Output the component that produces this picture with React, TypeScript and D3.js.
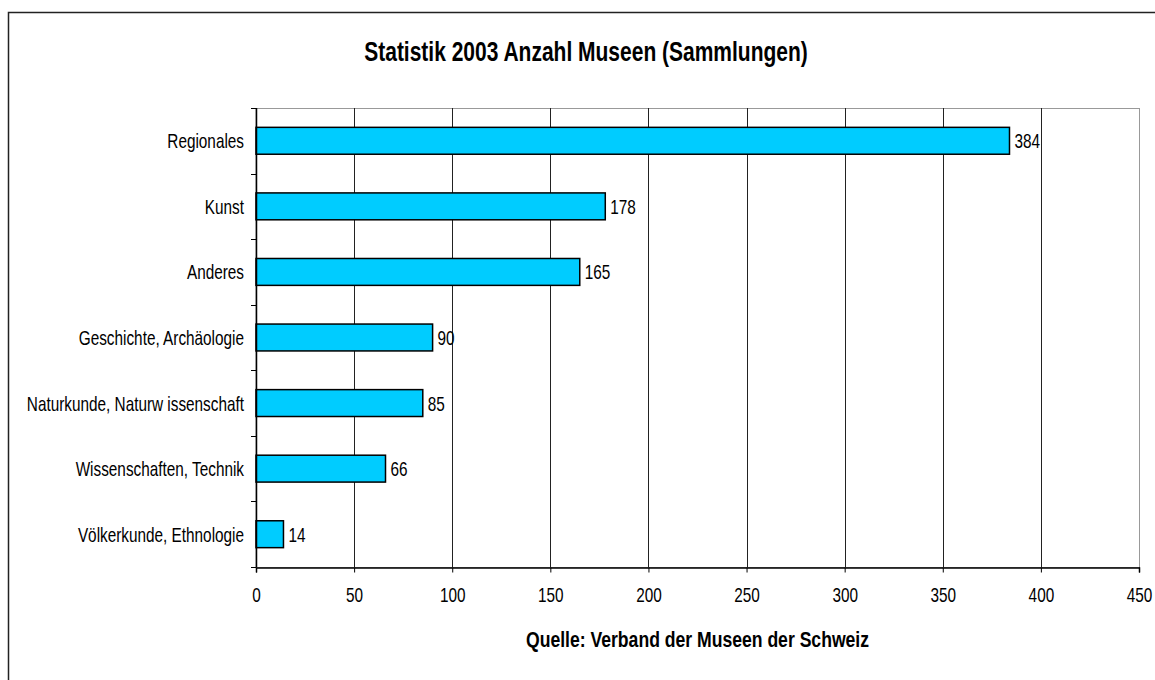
import React, { useEffect, useRef } from 'react';
import * as d3 from 'd3';

// Museums by collection type, Switzerland 2003
const categories = [
  'Regionales',
  'Kunst',
  'Anderes',
  'Geschichte, Archäologie',
  'Naturkunde, Naturw issenschaft',
  'Wissenschaften, Technik',
  'Völkerkunde, Ethnologie',
];
const counts = [384, 178, 165, 90, 85, 66, 14];
const xTicks = [0, 50, 100, 150, 200, 250, 300, 350, 400, 450];

const title = 'Statistik 2003 Anzahl Museen (Sammlungen)';
const source = 'Quelle: Verband der Museen der Schweiz';

const W = 1155;
const H = 680;
const FONT = '"Liberation Sans", Arial, sans-serif';
const SQUEEZE = 0.73; // the original text is strongly condensed

export default function App() {
  const ref = useRef<SVGSVGElement>(null);

  useEffect(() => {
    const svg = d3.select(ref.current);
    svg.selectAll('*').remove();

    const margin = { top: 108, right: 16, bottom: 113, left: 256 };
    const plotW = W - margin.left - margin.right;
    const plotH = H - margin.top - margin.bottom;

    // outer chart frame (runs off the picture on the right and bottom)
    svg.append('rect')
      .attr('x', 8.5).attr('y', 12.5)
      .attr('width', 1200).attr('height', 700)
      .attr('fill', '#fff')
      .attr('stroke', '#222').attr('stroke-width', 1.5);

    const x = d3.scaleLinear().domain([0, 450]).range([0, plotW]);
    const y = d3.scaleBand().domain(categories).range([0, plotH]).padding(0);
    const barH = y.bandwidth() * 0.41;

    const g = svg.append('g').attr('transform', `translate(${margin.left},${margin.top})`);

    // plot area border (grey top and right)
    g.append('rect')
      .attr('x', 0).attr('y', 0.5)
      .attr('width', plotW + 0.5).attr('height', plotH)
      .attr('fill', 'none').attr('stroke', '#999').attr('stroke-width', 1);

    // vertical gridlines
    g.append('g')
      .selectAll('line')
      .data(xTicks.slice(1, -1))
      .enter().append('line')
      .attr('x1', d => Math.round(x(d)) + 0.5).attr('x2', d => Math.round(x(d)) + 0.5)
      .attr('y1', 0).attr('y2', plotH)
      .attr('stroke', '#222').attr('stroke-width', 1);

    // bars
    g.selectAll('.bar')
      .data(counts)
      .enter().append('rect')
      .attr('class', 'bar')
      .attr('x', 0)
      .attr('y', (d, i) => y(categories[i])! + (y.bandwidth() - barH) / 2)
      .attr('width', d => x(d))
      .attr('height', barH)
      .attr('fill', '#00CCFF')
      .attr('stroke', '#000')
      .attr('stroke-width', 1.5);

    // value labels
    g.selectAll('.val')
      .data(counts)
      .enter().append('text')
      .attr('class', 'val')
      .attr('transform', (d, i) =>
        `translate(${x(d) + 5},${y(categories[i])! + y.bandwidth() / 2}) scale(${SQUEEZE},1)`)
      .attr('dy', '0.36em')
      .attr('font-family', FONT).attr('font-size', 21)
      .attr('fill', '#000')
      .text(d => d);

    // x axis
    const xAxis = g.append('g')
      .attr('transform', `translate(0,${plotH + 0.5})`)
      .call(d3.axisBottom(x).tickValues(xTicks).tickSize(5).tickPadding(10).tickFormat(d3.format('d')));
    xAxis.select('.domain').attr('stroke', '#000').attr('stroke-width', 1.5);
    xAxis.selectAll('.tick line').attr('stroke', '#000');
    xAxis.selectAll('.tick text')
      .attr('font-family', FONT).attr('font-size', 21).attr('fill', '#000')
      .attr('dy', '0.71em')
      .attr('y', 20)
      .attr('transform', `scale(${SQUEEZE},1)`);

    // y axis: ticks at band boundaries, labels at band centres
    const yAxisG = g.append('g');
    yAxisG.append('line')
      .attr('x1', 0.5).attr('x2', 0.5).attr('y1', 0).attr('y2', plotH)
      .attr('stroke', '#000').attr('stroke-width', 1.5);
    yAxisG.selectAll('.ytick')
      .data(d3.range(categories.length + 1))
      .enter().append('line')
      .attr('class', 'ytick')
      .attr('x1', -5).attr('x2', 0)
      .attr('y1', i => Math.round(i * y.step()) + 0.5)
      .attr('y2', i => Math.round(i * y.step()) + 0.5)
      .attr('stroke', '#000');
    yAxisG.selectAll('.ylab')
      .data(categories)
      .enter().append('text')
      .attr('class', 'ylab')
      .attr('transform', d => `translate(-12,${y(d)! + y.bandwidth() / 2}) scale(${SQUEEZE},1)`)
      .attr('dy', '0.36em')
      .attr('text-anchor', 'end')
      .attr('font-family', FONT).attr('font-size', 21)
      .attr('fill', '#000')
      .text(d => d);

    // title
    svg.append('text')
      .attr('transform', `translate(586,61) scale(0.75,1)`)
      .attr('text-anchor', 'middle')
      .attr('font-family', FONT).attr('font-size', 28).attr('font-weight', 'bold')
      .attr('fill', '#000')
      .text(title);

    // source line under the axis
    svg.append('text')
      .attr('transform', `translate(${margin.left + plotW / 2},647) scale(0.8,1)`)
      .attr('text-anchor', 'middle')
      .attr('font-family', FONT).attr('font-size', 22).attr('font-weight', 'bold')
      .attr('fill', '#000')
      .text(source);
  }, []);

  return (
    <svg
      ref={ref}
      width={W}
      height={H}
      style={{ position: 'absolute', left: 0, top: 0, background: '#fff' }}
    />
  );
}
